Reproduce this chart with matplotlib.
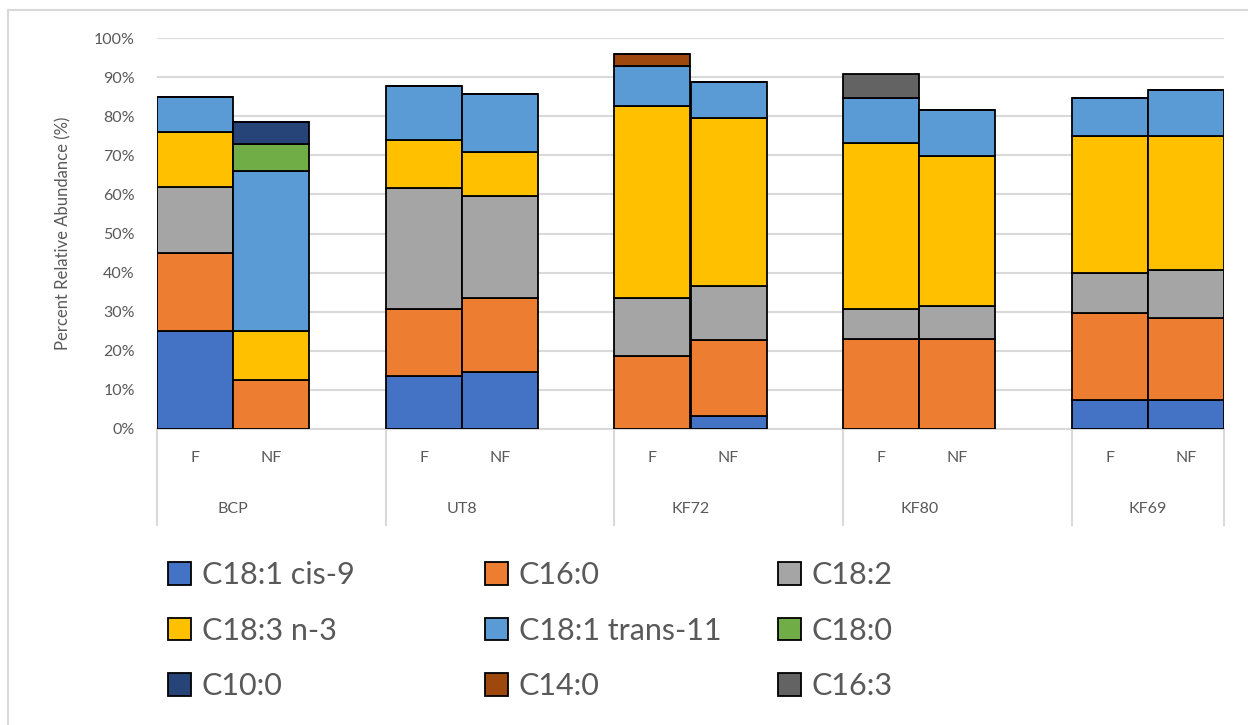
import numpy as np
import matplotlib
matplotlib.use("Agg")
import matplotlib.pyplot as plt
from matplotlib.ticker import PercentFormatter
from matplotlib.patches import Patch
from matplotlib.lines import Line2D

plt.rcParams['font.family'] = ['Lato', 'DejaVu Sans']

groups = ['BCP', 'UT8', 'KF72', 'KF80', 'KF69']
treatments = ['F', 'NF']

# bar order: BCP F, BCP NF, UT8 F, UT8 NF, KF72 F, KF72 NF, KF80 F, KF80 NF, KF69 F, KF69 NF
c18_1_cis9 = [25.0, 0.0, 13.6, 14.5, 0.0, 3.4, 0.0, 0.0, 7.4, 7.4]
c16_0 = [20.0, 12.5, 17.0, 19.1, 18.7, 19.4, 22.9, 22.9, 22.2, 21.1]
c18_2 = [17.0, 0.0, 31.0, 26.0, 14.9, 13.8, 7.7, 8.6, 10.2, 12.2]
c18_3_n3 = [14.0, 12.5, 12.3, 11.2, 49.0, 42.9, 42.5, 38.3, 35.1, 34.2]
c18_1_trans11 = [9.0, 41.0, 13.9, 14.9, 10.2, 9.2, 11.5, 11.8, 9.7, 11.8]
c18_0 = [0.0, 7.0, 0.0, 0.0, 0.0, 0.0, 0.0, 0.0, 0.0, 0.0]
c10_0 = [0.0, 5.5, 0.0, 0.0, 0.0, 0.0, 0.0, 0.0, 0.0, 0.0]
c14_0 = [0.0, 0.0, 0.0, 0.0, 3.1, 0.0, 0.0, 0.0, 0.0, 0.0]
c16_3 = [0.0, 0.0, 0.0, 0.0, 0.0, 0.0, 6.2, 0.0, 0.0, 0.0]

series = [
    ('C18:1 cis-9', c18_1_cis9, '#4472C4'),
    ('C16:0', c16_0, '#ED7D31'),
    ('C18:2', c18_2, '#A5A5A5'),
    ('C18:3 n-3', c18_3_n3, '#FFC000'),
    ('C18:1 trans-11', c18_1_trans11, '#5B9BD5'),
    ('C18:0', c18_0, '#70AD47'),
    ('C10:0', c10_0, '#264478'),
    ('C14:0', c14_0, '#9E480E'),
    ('C16:3', c16_3, '#636363'),
]

fig = plt.figure(figsize=(12.48, 7.25), dpi=100)
ax = fig.add_axes([157/1248, 1 - 429/725, (1224 - 157)/1248, (429 - 38)/725])

# each group takes 3 slots: F, NF, gap
x = []
for i in range(len(groups)):
    for j in range(len(treatments)):
        x.append(3*i + j + 0.5)
x = np.array(x)

bottom = np.zeros(len(x))
handles = []
for name, vals, col in series:
    vals = np.array(vals)
    ax.bar(x, vals, width=1.0, bottom=bottom, color=col, edgecolor='black', linewidth=1.3, zorder=3)
    bottom += vals
    handles.append(Patch(facecolor=col, edgecolor='black', linewidth=1.3, label=name))

ax.set_xlim(0, 14)
ax.set_ylim(0, 100)
ax.set_yticks(np.arange(0, 101, 10))
ax.yaxis.set_major_formatter(PercentFormatter(100, decimals=0))
ax.grid(axis='y', color='#D9D9D9', linewidth=1.5, zorder=0)
for s in ['top', 'right', 'left']:
    ax.spines[s].set_visible(False)
ax.spines['bottom'].set_color('#D9D9D9')
ax.spines['bottom'].set_linewidth(1.5)
ax.tick_params(axis='y', length=0, labelsize=11.5, labelcolor='#595959', pad=16)
ax.set_xticks([])
ax.set_ylabel('Percent Relative Abundance (%)', fontsize=12, color='#595959', labelpad=16)

# category axis labels
trans = ax.get_xaxis_transform()
for xi, k in zip(x, range(len(x))):
    ax.text(xi, -0.075, treatments[k % 2], transform=trans, ha='center', va='center',
            fontsize=11.5, color='#595959')
for i, g in enumerate(groups):
    ax.text(3*i + 1, -0.205, g, transform=trans, ha='center', va='center',
            fontsize=11.5, color='#595959')
seps = [0, 3, 6, 9, 12, 14]
for s in seps:
    ax.add_line(Line2D([s, s], [0, -0.245], transform=trans, color='#D9D9D9',
                       linewidth=1.5, clip_on=False))

# legend: three columns placed separately
cols = [[0, 3, 6], [1, 4, 7], [2, 5, 8]]
col_x = [153, 470, 763]
for cx, idx in zip(col_x, cols):
    fig.legend([handles[i] for i in idx], [handles[i].get_label() for i in idx],
               loc='upper left', bbox_to_anchor=(cx/1248, 1 - 546/725), frameon=False,
               fontsize=22, labelcolor='#595959', handlelength=0.75, handleheight=0.75,
               handletextpad=0.35, labelspacing=0.9, borderpad=0)

# chart area border
fig.add_artist(Line2D([8/1248, 8/1248], [0, 1 - 10/725], color='#D9D9D9', linewidth=1.5))
fig.add_artist(Line2D([8/1248, 1], [1 - 10/725, 1 - 10/725], color='#D9D9D9', linewidth=1.5))

fig.savefig('out.png', dpi=100)
